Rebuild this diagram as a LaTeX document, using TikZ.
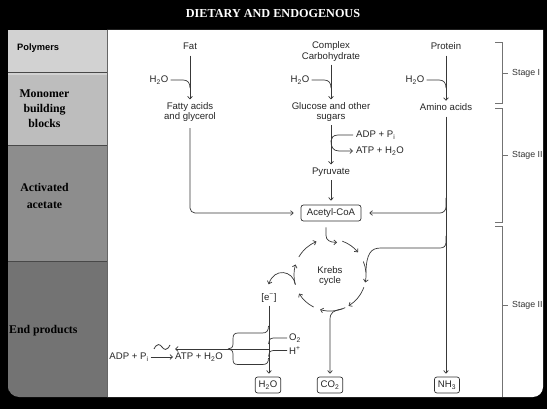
\documentclass[tikz,border=0pt]{standalone}
\usepackage{fontspec}
\setmainfont{Liberation Serif}
\setsansfont{Liberation Sans}
\usetikzlibrary{arrows.meta,calc}
\definecolor{polyc}{HTML}{D2D2D2}
\definecolor{monoc}{HTML}{BDBDBD}
\definecolor{actc}{HTML}{8D8D8D}
\definecolor{endc}{HTML}{737373}
\definecolor{sepc}{HTML}{484848}
\begin{document}
\begin{tikzpicture}[x=1pt,y=-1pt,
  lbl/.style={font=\sffamily\fontsize{9.6}{10.8}\selectfont, inner sep=0pt, align=center, text=black!85},
  stg/.style={font=\sffamily\fontsize{8.8}{10}\selectfont, anchor=west, inner sep=0pt, text=black!80},
  side/.style={font=\bfseries\fontsize{11.8}{15}\selectfont, align=center, inner sep=0pt, text=black},
  ln/.style={draw=black!78, line width=0.7pt},
  arr/.style={ln, -{Straight Barb[length=2.6pt,width=4.8pt]}},
  prodbox/.style={lbl, draw=black!80, line width=0.7pt, rounded corners=2.5pt, inner xsep=3.5pt, minimum height=16pt},
  brk/.style={draw=black!55, line width=0.6pt},
]
\useasboundingbox (0,0) rectangle (547,409);
\fill[black] (0,0) rectangle (547,409);
% white panel
\fill[white] (107,30) -- (543,30) -- (543,380) [rounded corners=10pt] -- (543,397) -- (130,397) [sharp corners] -- (107,397) -- cycle;
% left column
\fill[polyc] (8,30) rectangle (107,75);
\fill[monoc] (8,75) rectangle (107,146);
\fill[actc] (8,146) rectangle (107,262);
\fill[endc] (8,262) -- (107,262) -- (107,397) -- (30,397) [rounded corners=11pt] -- (8,397) -- (8,380) [sharp corners] -- cycle;
\draw[sepc, line width=1.2pt] (8,72.5) -- (107,72.5);
\draw[sepc, line width=1pt] (8,146) -- (107,146);
\draw[sepc, line width=1.3pt] (8,261.5) -- (107,261.5);
\draw[black!60, line width=0.8pt] (107.5,30) -- (107.5,397);

% title and side labels
\node[font=\bfseries\fontsize{12.2}{14}\selectfont, text=white, inner sep=0pt] (title) at (273,14) {DIETARY AND ENDOGENOUS};
\node[font=\sffamily\bfseries\fontsize{9.3}{11}\selectfont, anchor=west, inner sep=0pt] (poly) at (17,48) {Polymers};
\node[side] (mono) at (44.5,109) {Monomer\\building\\blocks};
\node[side, font=\bfseries\fontsize{11.8}{16.4}\selectfont] (act) at (44.5,196) {Activated\\acetate};
\node[side, anchor=west] (endp) at (9,331) {End products};

% main labels
\node[lbl] (fat) at (190,46) {Fat};
\node[lbl] (carb) at (331,51.5) {Complex\\Carbohydrate};
\node[lbl] (prot) at (446,46) {Protein};
\node[lbl] (h2oA) at (159,80) {H\textsubscript{2}O};
\node[lbl] (h2oB) at (300,80) {H\textsubscript{2}O};
\node[lbl] (h2oC) at (415,80) {H\textsubscript{2}O};
\node[lbl] (fatty) at (190,112) {Fatty acids\\and glycerol};
\node[lbl] (gluc) at (331,112) {Glucose and other\\sugars};
\node[lbl] (amino) at (446,107) {Amino acids};
\node[lbl, anchor=west] (adp1) at (356,135) {ADP + P\textsubscript{i}};
\node[lbl, anchor=west] (atp1) at (356,151) {ATP + H\textsubscript{2}O};
\node[lbl] (pyr) at (331,172) {Pyruvate};
\node[prodbox, inner xsep=6pt] (acoa) at (331,213) {Acetyl-CoA};
\node[lbl] (krebs) at (330,276) {Krebs\\cycle};
\coordinate (K) at (330,275);
\node[lbl] (em) at (269,298) {[e\textsuperscript{−}]};
\node[lbl, anchor=west] (o2) at (289,338) {O\textsubscript{2}};
\node[lbl, anchor=west] (hp) at (289,350.5) {H\textsuperscript{+}};
\node[lbl] (adp2) at (129,357) {ADP + P\textsubscript{i}};
\node[lbl] (atp2) at (199,357) {ATP + H\textsubscript{2}O};
\node[prodbox] (h2oE) at (268,385) {H\textsubscript{2}O};
\node[prodbox] (co2) at (330,385) {CO\textsubscript{2}};
\node[prodbox] (nh3) at (447,385) {NH\textsubscript{3}};

% stage brackets
\node[stg] (s1) at (512,73) {Stage I};
\node[stg] (s2) at (512,155) {Stage II};
\node[stg] (s3) at (512,305) {Stage II};
\draw[brk] (495,42) -- (502,42) -- (502,103) -- (495,103);
\draw[brk] (502,73) -- (508,73);
\draw[brk] (495,108) -- (502,108) -- (502,222) -- (495,222);
\draw[brk] (502,155) -- (508,155);
\draw[brk] (495,226) -- (502,226) -- (502,397);
\draw[brk] (502,305) -- (508,305);

% stage I hydrolysis
\coordinate (jA) at (190,88);
\coordinate (jB) at (331,88);
\coordinate (jC) at (446,88);
\draw[arr, shorten <=6pt, shorten >=2.5pt] (fat.south) -- (fat.south |- fatty.north);
\draw[arr, shorten <=3pt, shorten >=2.5pt] (carb.south) -- (carb.south |- gluc.north);
\draw[arr, shorten <=6pt, shorten >=2.5pt] (prot.south) -- (prot.south |- amino.north);
\foreach \h/\j in {h2oA/jA, h2oB/jB, h2oC/jC}{
  \draw[ln] ([xshift=2pt]\h.east) -- ($(\j |- \h.east)+(-7,0)$) .. controls ($(\j |- \h.east)+(-2,0)$) and ($(\j)+(0,-5)$) .. (\j);
}

% glycolysis
\coordinate (gA) at (331,141);
\draw[arr, shorten <=3pt, shorten >=3pt] (gluc.south) -- (gluc.south |- pyr.north);
\draw[ln] ([xshift=-3pt]adp1.west) -- ($(gA |- adp1.west)+(7,0)$) .. controls ($(gA |- adp1.west)+(2,0)$) and ($(gA)+(0,-3)$) .. (gA);
\draw[arr] (gA) .. controls ($(gA)+(0,6)$) and ($(gA)+(2,10)$) .. ($(gA)+(8,10)$) -- ([xshift=-3pt]atp1.west);
\draw[arr, shorten <=4pt, shorten >=4pt] (pyr.south) -- (acoa.north);

% to acetyl-CoA
\draw[arr, rounded corners=5pt, shorten <=6pt, shorten >=7pt] (fatty.south) |- (acoa.west);
\coordinate (b1) at (446,198);
\draw[arr, rounded corners=6pt, shorten >=8pt] (b1) |- (acoa.east);
\draw[arr, shorten <=6pt, shorten >=3pt] (amino.south) -- (amino.south |- nh3.north);
% amino acids into Krebs cycle
\coordinate (b2) at (446,236);
\coordinate (k2) at ($(K)+(4:36pt)$);
\draw[ln] (b2) -- ($(b2)+(0,6)$) .. controls ($(b2)+(0,10)$) and ($(b2)+(-2,12)$) .. ($(b2)+(-6,12)$) -- (381,248) .. controls (371,248) and (366.5,253) .. (k2);

% acetyl-CoA into cycle
\coordinate (e0) at ($(acoa.south)+(-5,6)$);
\draw[arr] (e0) -- ($(e0)+(0,8)$) .. controls ($(e0)+(0,13)$) and ($(e0)+(4,15)$) .. ($(e0)+(11,15)$);

% Krebs cycle arcs
\foreach \a/\b in {70/39, 22/-12, -20/-59, -65/-106, -117/-149, -164/-197, 150/112}{
  \draw[arr] ($(K)+(\a:36pt)$) arc[start angle=\a, end angle=\b, radius=36pt];
}
% CO2 branch
\coordinate (c0) at ($(K)+(-70:36pt)$);
\draw[arr, shorten >=3pt] (c0) .. controls ($(c0)+(-9,2)$) and (330,312) .. (330,320) -- (co2.north);
% electrons
\coordinate (s0) at ($(K)+(-165:36pt)$);
\draw[arr] (s0) .. controls ($(s0)+(-2,-14)$) and ($(s0)+(-21,-17)$) .. ($(s0)+(-26.5,0)$);
\draw[arr, shorten <=3pt, shorten >=3pt] (em.south) -- (em.south |- h2oE.north);

% O2 and H+ joining
\coordinate (eO) at (268.5,344);
\coordinate (eH) at (268.5,356.5);
\draw[ln] ([xshift=-2pt]o2.west) -- ($(eO |- o2.west)+(5,0)$) .. controls ($(eO |- o2.west)+(1,0)$) and ($(eO)+(0,-3)$) .. (eO);
\draw[ln] ([xshift=-2pt]hp.west) -- ($(eH |- hp.west)+(5,0)$) .. controls ($(eH |- hp.west)+(1,0)$) and ($(eH)+(0,-3)$) .. (eH);

% brace and ATP synthesis
\coordinate (bt) at (268.5,326);
\coordinate (bb) at (268.5,358);
\coordinate (tip) at (228,349);
\draw[ln] (bt) .. controls (268.5,331) and (266.5,333) .. (262.5,333) -- (238,333) .. controls (234,333) and (233,335) .. (233,339) -- (233,344) .. controls (233,347.5) and (231,349) .. (tip);
\draw[ln] (tip) .. controls (231,349) and (233,350.5) .. (233,354) -- (233,359) .. controls (233,363) and (234,364.5) .. (238,364.5) -- (262.5,364.5) .. controls (266.5,364.5) and (268.5,363) .. (bb);
\coordinate (mid) at (268.5,349);
\coordinate (atpend) at (175,349);
\draw[arr] (mid) -- (atpend);
\draw[arr] ([xshift=2pt]adp2.east) -- ([xshift=-2pt]atp2.west);
\draw[ln, line width=0.8pt] (154,349) .. controls (157,343) and (160,344) .. (162,347) .. controls (164,350) and (167,351) .. (170,345);
\end{tikzpicture}
\end{document}
